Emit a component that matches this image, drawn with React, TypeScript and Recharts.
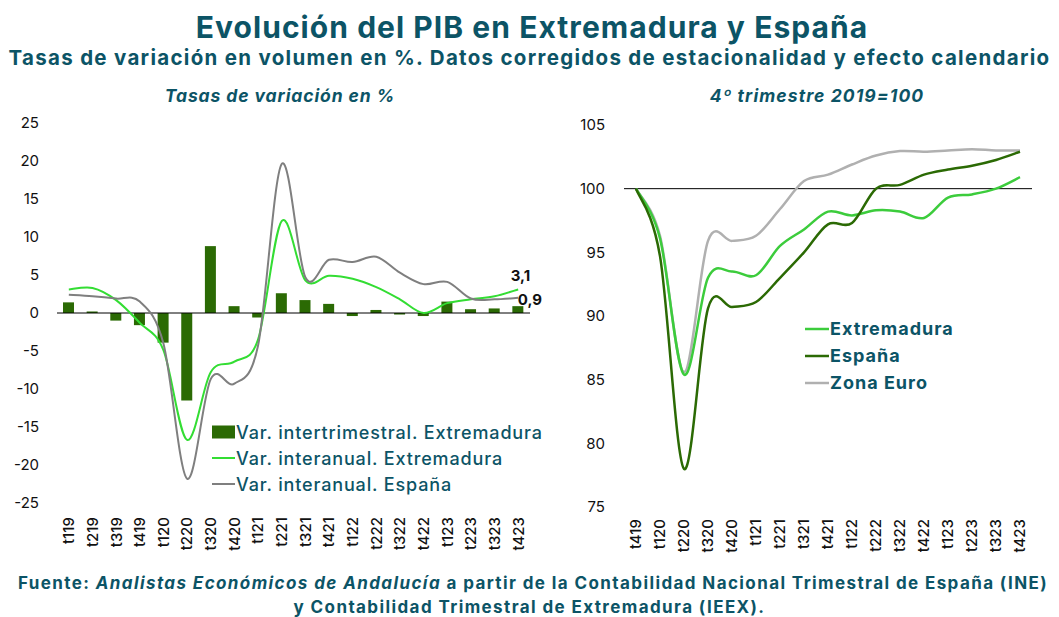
import React from 'react';
import { ComposedChart, Bar, Line, XAxis, YAxis, ReferenceLine, LabelList } from 'recharts';

const categoriesLeft = ['t119','t219','t319','t419','t120','t220','t320','t420','t121','t221','t321','t421','t122','t222','t322','t422','t123','t223','t323','t423'];
const quarterlyExt = [1.4, 0.2, -1.0, -1.6, -3.9, -11.5, 8.8, 0.9, -0.6, 2.6, 1.7, 1.2, -0.4, 0.4, -0.2, -0.4, 1.5, 0.5, 0.6, 0.9];
const yearlyExt = [3.1, 3.3, 1.7, -1.3, -4.9, -16.7, -7.8, -6.4, -3.5, 12.1, 4.3, 4.9, 4.5, 3.4, 1.8, 0.0, 1.3, 1.8, 2.2, 3.1];
const yearlyEsp = [2.4, 2.2, 1.9, 1.5, -4.0, -21.8, -8.7, -9.3, -4.3, 19.6, 4.7, 7.0, 6.7, 7.4, 5.3, 3.8, 4.1, 1.9, 1.8, 2.0];
const leftTicks = [-25, -20, -15, -10, -5, 0, 5, 10, 15, 20, 25];

const categoriesRight = ['t419','t120','t220','t320','t420','t121','t221','t321','t421','t122','t222','t322','t422','t123','t223','t323','t423'];
const indexExt = [100, 96.1, 85.4, 93.0, 93.5, 93.2, 95.5, 96.8, 98.2, 97.9, 98.3, 98.2, 97.7, 99.3, 99.55, 100.0, 100.9];
const indexEsp = [100, 94.7, 78.0, 90.6, 90.7, 91.1, 93.0, 95.0, 97.2, 97.3, 100.0, 100.3, 101.1, 101.5, 101.8, 102.25, 102.9];
const indexEuro = [100, 96.3, 85.6, 95.9, 95.9, 96.3, 98.4, 100.6, 101.1, 101.9, 102.6, 102.95, 102.9, 103.0, 103.1, 103.0, 103.0];
const rightTicks = [75, 80, 85, 90, 95, 100, 105];

const leftData = categoriesLeft.map((c, i) => ({ cat: c, q: quarterlyExt[i], ye: yearlyExt[i], ys: yearlyEsp[i] }));
const rightData = categoriesRight.map((c, i) => ({ cat: c, ext: indexExt[i], esp: indexEsp[i], euro: indexEuro[i] }));

const TEAL = '#0c5466';
const DARK_GREEN = '#2b6a04';
const BRIGHT_GREEN = '#33dd33';
const GREY = '#7f7f7f';
const R_GREEN = '#3ccc3c';
const R_GREY = '#b0b0b0';
const FONT = 'Inter, "Noto Sans", sans-serif';

// Excel-like smoothed line (Catmull-Rom style cardinal spline)
function smoothCurve(context: any) {
  let pts: number[][] = [];
  return {
    areaStart() {},
    areaEnd() {},
    lineStart() { pts = []; },
    lineEnd() {
      const n = pts.length;
      if (n === 0) return;
      context.moveTo(pts[0][0], pts[0][1]);
      for (let i = 0; i < n - 1; i++) {
        const p0 = pts[Math.max(i - 1, 0)];
        const p1 = pts[i];
        const p2 = pts[i + 1];
        const p3 = pts[Math.min(i + 2, n - 1)];
        const c1x = p1[0] + (p2[0] - p0[0]) / 6;
        const c1y = p1[1] + (p2[1] - p0[1]) / 6;
        const c2x = p2[0] - (p3[0] - p1[0]) / 6;
        const c2y = p2[1] - (p3[1] - p1[1]) / 6;
        context.bezierCurveTo(c1x, c1y, c2x, c2y, p2[0], p2[1]);
      }
    },
    point(x: number, y: number) { pts.push([+x, +y]); },
  };
}

const makeXTick = (offset: number) => (props: any) => {
  const { x, y, payload } = props;
  return (
    <g transform={`translate(${x},${y + offset})`}>
      <text transform="rotate(-90)" x={0} y={0} dy="0.36em" textAnchor="end" fill="#111" fontSize={15} fontWeight={500} fontFamily={FONT}>
        {payload.value}
      </text>
    </g>
  );
};

const fmt = (v: number) => String(v).replace('.', ',');

const LastLineLabel = (props: any) => {
  const { x, y, value, index } = props;
  if (index !== categoriesLeft.length - 1) return null;
  return (
    <text x={x + 12} y={y - 14} dy="0.36em" textAnchor="end" fill="#111" fontSize={15} fontWeight={700} fontFamily={FONT}>{fmt(value)}</text>
  );
};

const LastBarLabel = (props: any) => {
  const { x, y, width, value, index } = props;
  if (index !== categoriesLeft.length - 1) return null;
  return (
    <text x={x + width / 2} y={y - 7} dy="0.36em" textAnchor="start" fill="#111" fontSize={15} fontWeight={700} fontFamily={FONT}>{fmt(value)}</text>
  );
};

const LeftLegend = () => {
  const items = [
    { label: 'Var. intertrimestral. Extremadura', kind: 'bar', color: DARK_GREEN },
    { label: 'Var. interanual. Extremadura', kind: 'line', color: BRIGHT_GREEN },
    { label: 'Var. interanual. España', kind: 'line', color: GREY },
  ];
  return (
    <div style={{ fontFamily: FONT }}>
      {items.map((it) => (
        <div key={it.label} style={{ display: 'flex', alignItems: 'center', height: 26 }}>
          <svg width={24} height={16} style={{ display: 'block' }}>
            {it.kind === 'bar' ? <rect x={0} y={1.5} width={23} height={13} fill={it.color} /> : <line x1={0} x2={23} y1={8} y2={8} stroke={it.color} strokeWidth={2} />}
          </svg>
          <span style={{ color: TEAL, fontSize: 18, fontWeight: 500, whiteSpace: 'nowrap', letterSpacing: 0.85 }}>{it.label}</span>
        </div>
      ))}
    </div>
  );
};

const RightLegend = () => {
  const items = [
    { label: 'Extremadura', color: R_GREEN },
    { label: 'España', color: DARK_GREEN },
    { label: 'Zona Euro', color: R_GREY },
  ];
  return (
    <div style={{ fontFamily: FONT }}>
      {items.map((it) => (
        <div key={it.label} style={{ display: 'flex', alignItems: 'center', height: 27 }}>
          <svg width={25} height={16} style={{ display: 'block' }}>
            <line x1={0} x2={24} y1={8} y2={8} stroke={it.color} strokeWidth={2.5} />
          </svg>
          <span style={{ color: TEAL, fontSize: 18, fontWeight: 700, whiteSpace: 'nowrap', letterSpacing: 1.0 }}>{it.label}</span>
        </div>
      ))}
    </div>
  );
};

const abs = (left: number, top: number, extra: React.CSSProperties = {}): React.CSSProperties => ({
  position: 'absolute', left, top, ...extra,
});

export default function App() {
  return (
    <div style={{ position: 'absolute', left: 0, top: 0, width: 1059, height: 617, background: '#fff', fontFamily: FONT, overflow: 'hidden' }}>
      <div style={abs(0, 9, { width: 1064, textAlign: 'center', fontSize: 30, fontWeight: 700, color: TEAL, lineHeight: '36px', letterSpacing: 1.05, whiteSpace: 'nowrap' })}>
        Evolución del PIB en Extremadura y España
      </div>
      <div style={abs(0, 46, { width: 1059, textAlign: 'center', fontSize: 20.5, fontWeight: 700, color: TEAL, lineHeight: '24px', letterSpacing: 1.3, whiteSpace: 'nowrap' })}>
        Tasas de variación en volumen en %. Datos corregidos de estacionalidad y efecto calendario
      </div>
      <div style={abs(130, 85, { width: 300, textAlign: 'center', fontSize: 17.5, fontWeight: 700, fontStyle: 'italic', color: TEAL, lineHeight: '22px', letterSpacing: 0.9 })}>
        Tasas de variación en %
      </div>
      <div style={abs(667, 85, { width: 300, textAlign: 'center', fontSize: 17.5, fontWeight: 700, fontStyle: 'italic', color: TEAL, lineHeight: '22px', letterSpacing: 1.1 })}>
        4º trimestre 2019=100
      </div>

      <div style={abs(0, 110)}>
        <ComposedChart width={560} height={450} data={leftData} margin={{ top: 13, right: 30, bottom: 7, left: 0 }} barSize={11}>
          <XAxis dataKey="cat" interval={0} axisLine={false} tickLine={false} tickSize={0} tickMargin={0} height={50} tick={makeXTick(14)} />
          <YAxis domain={[-25, 25]} ticks={leftTicks} interval={0} width={57} axisLine={false} tickLine={false} tickSize={0} tickMargin={18}
            tick={{ fill: '#111', fontSize: 15, fontFamily: FONT }} />
          <ReferenceLine y={0} stroke="#000" strokeWidth={1} />
          <Bar dataKey="q" fill={DARK_GREEN} isAnimationActive={false}>
            <LabelList dataKey="q" content={LastBarLabel} />
          </Bar>
          <Line dataKey="ye" type={smoothCurve as any} stroke={BRIGHT_GREEN} strokeWidth={2} dot={false} activeDot={false} isAnimationActive={false}>
            <LabelList dataKey="ye" content={LastLineLabel} />
          </Line>
          <Line dataKey="ys" type={smoothCurve as any} stroke={GREY} strokeWidth={2} dot={false} activeDot={false} isAnimationActive={false} />
        </ComposedChart>
      </div>
      <div style={abs(212, 419)}>
        <LeftLegend />
      </div>

      <div style={abs(560, 110)}>
        <ComposedChart width={499} height={450} data={rightData} margin={{ top: 15, right: 27, bottom: 7, left: 0 }}>
          <XAxis dataKey="cat" scale="band" interval={0} axisLine={false} tickLine={false} tickSize={0} tickMargin={0} height={46} tick={makeXTick(12)} />
          <YAxis domain={[75, 105]} ticks={rightTicks} interval={0} width={64} axisLine={false} tickLine={false} tickSize={0} tickMargin={19}
            tick={{ fill: '#111', fontSize: 15, fontFamily: FONT }} />
          <ReferenceLine y={100} stroke="#000" strokeWidth={1} />
          <Line dataKey="euro" type={smoothCurve as any} stroke={R_GREY} strokeWidth={2.5} dot={false} activeDot={false} isAnimationActive={false} />
          <Line dataKey="ext" type={smoothCurve as any} stroke={R_GREEN} strokeWidth={2.5} dot={false} activeDot={false} isAnimationActive={false} />
          <Line dataKey="esp" type={smoothCurve as any} stroke={DARK_GREEN} strokeWidth={2.5} dot={false} activeDot={false} isAnimationActive={false} />
        </ComposedChart>
      </div>
      <div style={abs(805, 315)}>
        <RightLegend />
      </div>

      <div style={abs(0, 571, { width: 1066, textAlign: 'center', fontSize: 17, fontWeight: 700, color: TEAL, lineHeight: '24px', letterSpacing: 1.4, whiteSpace: 'nowrap' })}>
        Fuente: <i>Analistas Económicos de Andalucía</i> a partir de la Contabilidad Nacional Trimestral de España (INE)
      </div>
      <div style={abs(0, 595, { width: 1059, textAlign: 'center', fontSize: 17, fontWeight: 700, color: TEAL, lineHeight: '24px', letterSpacing: 1.4, whiteSpace: 'nowrap' })}>
        y Contabilidad Trimestral de Extremadura (IEEX).
      </div>
    </div>
  );
}
